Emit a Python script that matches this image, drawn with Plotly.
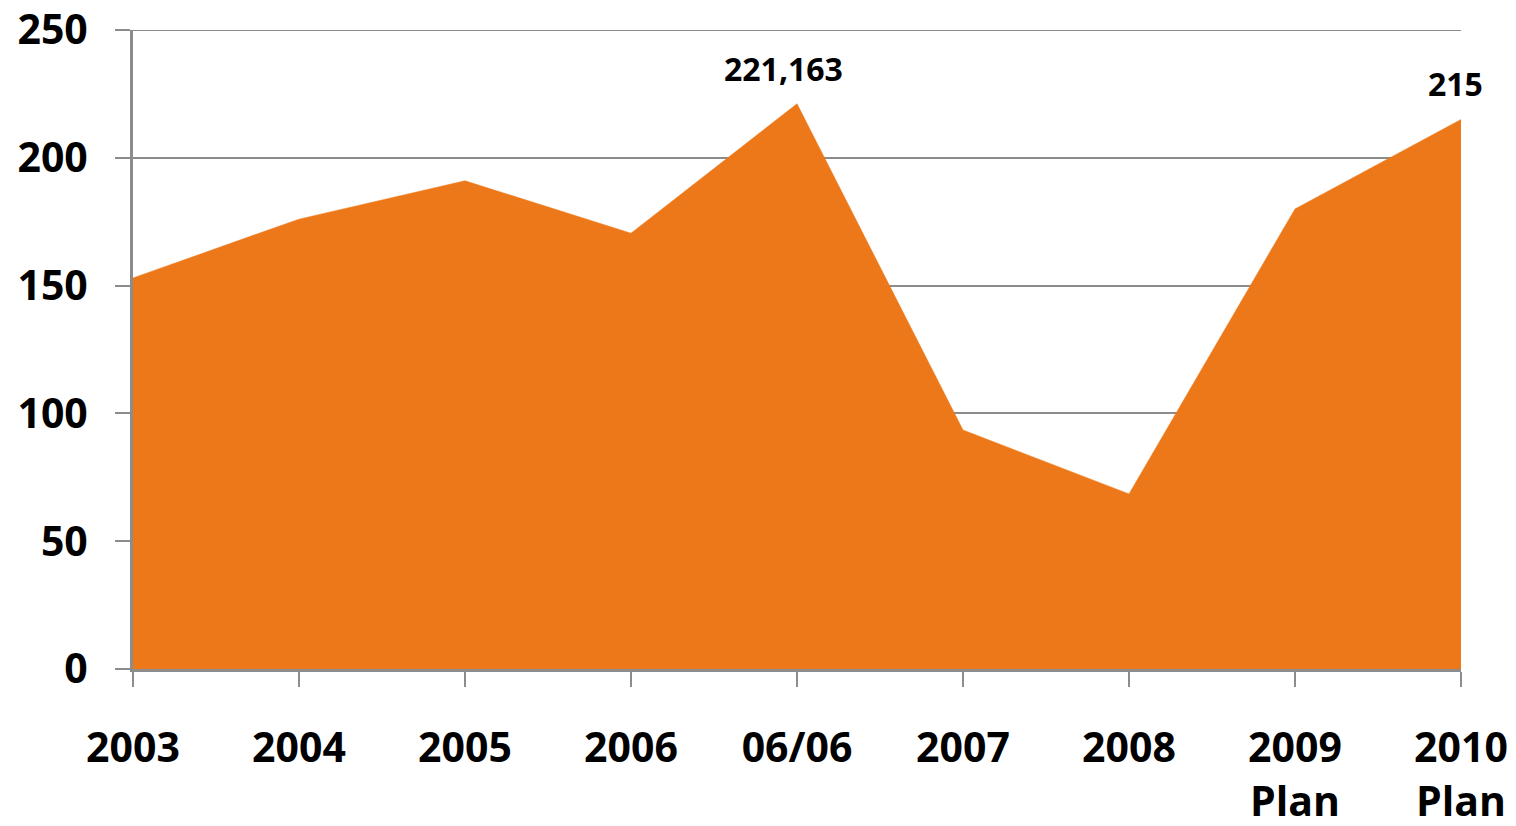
import plotly.graph_objects as go

categories = ["2003", "2004", "2005", "2006", "06/06", "2007", "2008", "2009<br>Plan", "2010<br>Plan"]
values = [153, 176, 191, 170.5, 221.163, 93.5, 68.5, 180, 215]
label_idx = [4, 8]
label_text = ["221,163", "215"]
y_ticks = [0, 50, 100, 150, 200, 250]

FONT = "Open Sans"
ORANGE = "#ED7819"
GRID = "#8C8C8C"

fig = go.Figure()
fig.add_trace(go.Scatter(
    x=list(range(len(categories))), y=values,
    mode="lines", fill="tozeroy", fillcolor=ORANGE,
    line=dict(color=ORANGE, width=0.5), hoverinfo="skip", showlegend=False,
))

for i, t in zip(label_idx, label_text):
    fig.add_annotation(x=i, y=values[i], text=f"<b>{t}</b>", showarrow=False,
                       yanchor="bottom", yshift=12, xshift=-6 if i == len(categories) - 1 else -14,
                       font=dict(family=FONT, size=32, color="black"))

# top gridline at the axis maximum (plotly omits a gridline on the range edge)
fig.add_shape(type="line", xref="paper", yref="y", x0=0, x1=1, y0=y_ticks[-1], y1=y_ticks[-1],
              line=dict(color=GRID, width=2), layer="below")

fig.update_layout(
    width=1516, height=826,
    margin=dict(l=133, r=55, t=30, b=157),
    plot_bgcolor="white", paper_bgcolor="white",
    font=dict(family=FONT, color="black"),
)
fig.update_xaxes(
    range=[0, len(categories) - 1], automargin=False,
    tickmode="array", tickvals=list(range(len(categories))),
    ticktext=[f"<b>{c}</b>" for c in categories],
    tickfont=dict(family=FONT, size=41, color="black"),
    ticks="outside", ticklen=15, tickwidth=2, tickcolor=GRID,
    showline=True, linecolor=GRID, linewidth=3,
    showgrid=False, zeroline=False, ticklabelstandoff=26,
)
fig.update_yaxes(
    range=[0, 250], automargin=False,
    tickmode="array", tickvals=y_ticks,
    ticktext=[f"<b>{v}</b>" for v in y_ticks],
    tickfont=dict(family=FONT, size=41, color="black"),
    ticks="outside", ticklen=15, tickwidth=2, tickcolor=GRID,
    showline=True, linecolor=GRID, linewidth=3,
    showgrid=True, gridcolor=GRID, gridwidth=2, zeroline=False,
    ticklabelstandoff=19,
)

fig.write_html("out.html", config={"displayModeBar": False},
               post_script="document.body.style.margin='0';document.body.style.overflow='hidden';")
